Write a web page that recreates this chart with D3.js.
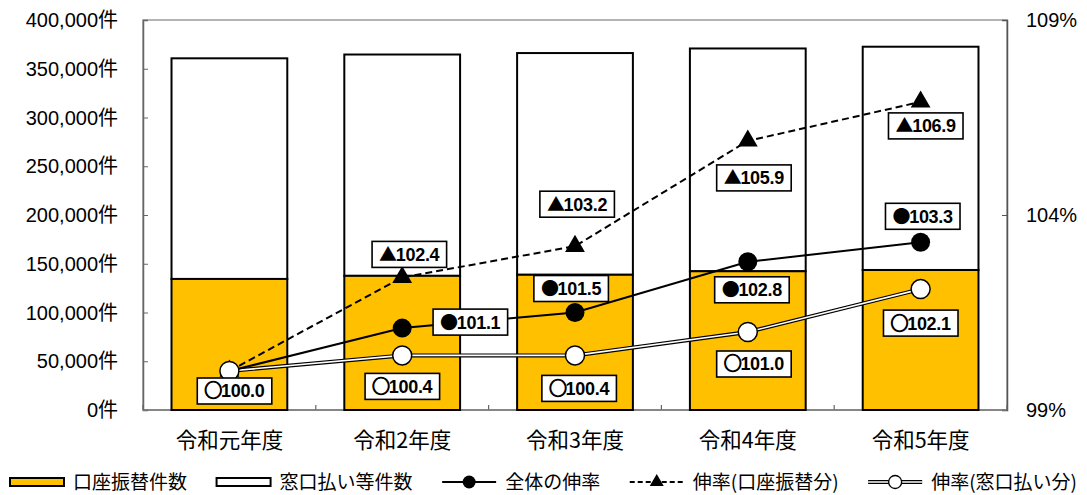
<!DOCTYPE html>
<html><head><meta charset="utf-8">
<script src="https://cdn.jsdelivr.net/npm/d3@7"></script>
<style>body{margin:0;background:#fff}</style>
</head><body><svg id="c" width="1087" height="495"></svg>
<script>
const categories = ["令和元年度","令和2年度","令和3年度","令和4年度","令和5年度"];
const kouzaCounts = [134400,137600,138700,142300,143600];
const madoguchiCounts = [226300,227000,227400,228500,229000];
const totalRate = [100.0,101.1,101.5,102.8,103.3];
const kouzaRate = [100.0,102.4,103.2,105.9,106.9];
const madoguchiRate = [100.0,100.4,100.4,101.0,102.1];
const leftTicks = [0,50000,100000,150000,200000,250000,300000,350000,400000];
const rightTicks = [99,104,109];
const legendLabels = ["口座振替件数","窓口払い等件数","全体の伸率","伸率(口座振替分)","伸率(窓口払い分)"];

// label box offsets from their point (layout only)
const offTotal = [null,[68,-6],[-4,-24],[4,28],[2,-26]];
const offKouza = [null,[7,-23],[2,-42],[6,37],[5,24]];
const offMado = [[5,20],[0,31],[4,33],[6,32],[0,34]];

const W=1087,H=495, L=143, R=1007, T=20, B=410;
const svg=d3.select("#c");
const FONT='"Liberation Sans","Noto Sans CJK JP",sans-serif';
const CJK='"Noto Sans CJK JP","Liberation Sans",sans-serif';
const ORANGE="#FFC000";

const x=d3.scaleBand().domain(categories).range([L,R]).paddingInner(0.33).paddingOuter(0.165);
const xc=d3.scaleBand().domain(categories).range([L,R]);
const yL=d3.scaleLinear().domain([0,400000]).range([B,T]);
const yR=d3.scaleLinear().domain([99,109]).range([B,T]);

// frame
svg.append("rect").attr("x",L).attr("y",T).attr("width",R-L).attr("height",B-T)
  .attr("fill","none").attr("stroke","#8c8c8c").attr("stroke-width",1.3);

// left axis
const gl=svg.append("g").attr("transform",`translate(${L},0)`)
  .call(d3.axisRight(yL).tickValues(leftTicks).tickSize(5).tickFormat(""));
gl.select(".domain").attr("stroke","#666").attr("stroke-width",1.5);
gl.selectAll(".tick line").attr("stroke","#666");
svg.append("g").selectAll("text").data(leftTicks).join("text")
  .attr("x",118).attr("y",d=>yL(d)).attr("dy","0.36em").attr("text-anchor","end")
  .attr("font-family",FONT).attr("font-size",20).attr("fill","#000")
  .text(d=>d3.format(",")(d)+"件");

// right axis
const gr=svg.append("g").attr("transform",`translate(${R},0)`)
  .call(d3.axisLeft(yR).tickValues(rightTicks).tickSize(5).tickFormat(""));
gr.select(".domain").attr("stroke","#555").attr("stroke-width",1.5);
gr.selectAll(".tick line").attr("stroke","#555");
svg.append("g").selectAll("text").data(rightTicks).join("text")
  .attr("x",1026).attr("y",d=>yR(d)).attr("dy","0.36em").attr("text-anchor","start")
  .attr("font-family",FONT).attr("font-size",20).attr("fill","#000")
  .text(d=>d+"%");

// bottom axis ticks (between categories)
const bounds=categories.map(c=>xc(c)).concat([R]);
svg.append("g").selectAll("line").data(bounds).join("line")
  .attr("x1",d=>d).attr("x2",d=>d).attr("y1",B).attr("y2",B-5)
  .attr("stroke","#666").attr("stroke-width",1.2);
svg.append("line").attr("x1",L).attr("x2",R).attr("y1",B).attr("y2",B).attr("stroke","#777").attr("stroke-width",1.5);

// category labels
svg.append("g").selectAll("text").data(categories).join("text")
  .attr("x",d=>xc(d)+xc.bandwidth()/2).attr("y",448).attr("text-anchor","middle")
  .attr("font-family",CJK).attr("font-size",21.5).attr("fill","#000").text(d=>d);

// bars
const bars=svg.append("g");
categories.forEach((c,i)=>{
  const k=kouzaCounts[i], m=madoguchiCounts[i];
  bars.append("rect").attr("x",x(c)).attr("width",x.bandwidth())
    .attr("y",yL(k+m)).attr("height",yL(k)-yL(k+m))
    .attr("fill","#fff").attr("stroke","#000").attr("stroke-width",2);
  bars.append("rect").attr("x",x(c)).attr("width",x.bandwidth())
    .attr("y",yL(k)).attr("height",yL(0)-yL(k))
    .attr("fill",ORANGE).attr("stroke","#000").attr("stroke-width",2);
});

const cx=c=>xc(c)+xc.bandwidth()/2;
const line=d3.line().x((d,i)=>cx(categories[i])).y(d=>yR(d));

// lines
svg.append("path").attr("d",line(madoguchiRate)).attr("fill","none").attr("stroke","#000").attr("stroke-width",4);
svg.append("path").attr("d",line(madoguchiRate)).attr("fill","none").attr("stroke","#fff").attr("stroke-width",1.6);
svg.append("path").attr("d",line(kouzaRate)).attr("fill","none").attr("stroke","#000").attr("stroke-width",2).attr("stroke-dasharray","7,4");
svg.append("path").attr("d",line(totalRate)).attr("fill","none").attr("stroke","#000").attr("stroke-width",2);

// markers
const tri=d3.symbol().type(d3.symbolTriangle).size(170);
svg.append("g").selectAll("path").data(kouzaRate).join("path")
  .attr("d",tri).attr("transform",(d,i)=>`translate(${cx(categories[i])},${yR(d)})`).attr("fill","#000");
svg.append("g").selectAll("circle").data(totalRate).join("circle")
  .attr("cx",(d,i)=>cx(categories[i])).attr("cy",d=>yR(d)).attr("r",9.5).attr("fill","#000");
svg.append("g").selectAll("circle").data(madoguchiRate).join("circle")
  .attr("cx",(d,i)=>cx(categories[i])).attr("cy",d=>yR(d)).attr("r",9.5).attr("fill","#fff").attr("stroke","#000").attr("stroke-width",1.5);

// data labels
const lab=svg.append("g");
function label(vals,offs,glyph){
  vals.forEach((v,i)=>{
    const o=offs[i]; if(!o) return;
    const px=cx(categories[i])+o[0], py=yR(v)+o[1];
    const g=lab.append("g");
    const r=g.append("rect");
    const t=g.append("text").attr("x",px).attr("y",py).attr("dy","0.36em").attr("text-anchor","middle")
      .attr("font-family",FONT).attr("font-weight","bold").attr("font-size",18).attr("fill","#000")
      .attr("letter-spacing",-0.3);
    const gs=t.append("tspan").attr("font-size",18).attr("font-family",'"Noto Sans CJK JP",sans-serif').attr("font-weight","bold").text(glyph);
    if(glyph==="○") gs.attr("stroke","#000").attr("stroke-width",1.1);
    t.append("tspan").attr("dx",-1).attr("stroke","none").text(v.toFixed(1));
    const bb=t.node().getBBox();
    const w=bb.width+14, h=26;
    r.attr("x",bb.x-7).attr("y",py-h/2).attr("width",w).attr("height",h)
      .attr("fill","#fff").attr("stroke","#000").attr("stroke-width",1.6);
  });
}
label(totalRate,offTotal,"●");
label(kouzaRate,offKouza,"▲");
label(madoguchiRate,offMado,"○");

// legend
const lg=svg.append("g");
const LY=482, LX0=10, LX1=1077;
const symW=54, gapT=9;
const texts=legendLabels.map(txt=>lg.append("text").attr("y",LY).attr("dy","0.35em")
    .attr("font-family",CJK).attr("font-size",19).attr("fill","#000").text(txt));
const tw=texts.map(t=>t.node().getComputedTextLength());
const gapN=(LX1-LX0-d3.sum(tw)-legendLabels.length*(symW+gapT))/(legendLabels.length-1);
let cur=LX0;
legendLabels.forEach((txt,i)=>{
  const s=lg.append("g");
  const x0=cur;
  if(i===0||i===1){
    s.append("rect").attr("x",x0).attr("y",LY-4).attr("width",symW).attr("height",8)
      .attr("fill",i===0?ORANGE:"#fff").attr("stroke","#000").attr("stroke-width",2);
  } else if(i===2){
    s.append("line").attr("x1",x0).attr("x2",x0+symW).attr("y1",LY).attr("y2",LY).attr("stroke","#000").attr("stroke-width",2);
    s.append("circle").attr("cx",x0+symW/2).attr("cy",LY).attr("r",6.5).attr("fill","#000");
  } else if(i===3){
    s.append("line").attr("x1",x0).attr("x2",x0+symW).attr("y1",LY).attr("y2",LY).attr("stroke","#000").attr("stroke-width",2).attr("stroke-dasharray","5,3");
    s.append("path").attr("d",d3.symbol().type(d3.symbolTriangle).size(85)).attr("transform",`translate(${x0+symW/2},${LY})`).attr("fill","#000");
  } else {
    s.append("line").attr("x1",x0).attr("x2",x0+symW).attr("y1",LY).attr("y2",LY).attr("stroke","#000").attr("stroke-width",4);
    s.append("line").attr("x1",x0).attr("x2",x0+symW).attr("y1",LY).attr("y2",LY).attr("stroke","#fff").attr("stroke-width",1.6);
    s.append("circle").attr("cx",x0+symW/2).attr("cy",LY).attr("r",6.5).attr("fill","#fff").attr("stroke","#000").attr("stroke-width",1.3);
  }
  texts[i].attr("x",x0+symW+gapT);
  cur=x0+symW+gapT+tw[i]+gapN;
});
</script></body></html>
